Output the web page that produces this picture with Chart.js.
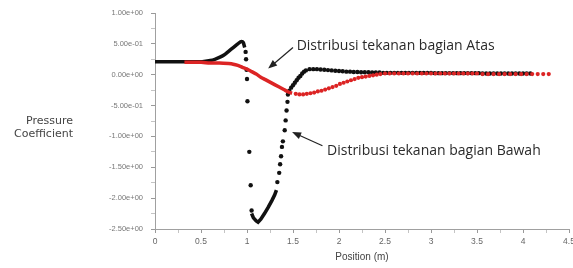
<!DOCTYPE html>
<html>
<head>
<meta charset="utf-8">
<script src="https://cdn.jsdelivr.net/npm/chart.js@4"></script>
<style>
    html, body { margin: 0; padding: 0; background: #fff; overflow: hidden; }
    #wrap { width: 573px; height: 268px; }
</style>
</head>
<body>
<div id="wrap"><canvas id="cpChart" width="573" height="268"></canvas></div>
<script>
// --- Data ---

// black series (bagian Bawah): solid stretch before the peak
const bawahLineX = [0, 0.3, 0.5, 0.55, 0.6, 0.65, 0.7, 0.75, 0.8, 0.85, 0.9, 0.94, 0.96, 0.975];
const bawahLineY = [0.21, 0.21, 0.21, 0.22, 0.23, 0.25, 0.28, 0.32, 0.38, 0.44, 0.50, 0.54, 0.52, 0.44];

// black series: the dense "V" at the suction minimum
const bawahVX = [1.05, 1.07, 1.1, 1.12, 1.15, 1.19, 1.23, 1.27, 1.3, 1.32];
const bawahVY = [-2.25, -2.32, -2.37, -2.39, -2.34, -2.25, -2.15, -2.04, -1.95, -1.87];

// black series: separate dots
const bawahDotX = [0.985, 0.99, 0.995, 1.0, 1.005, 1.025, 1.04, 1.05,
    1.33, 1.35, 1.36, 1.37, 1.38, 1.39, 1.41, 1.42, 1.43, 1.44, 1.445,
    1.46, 1.48, 1.5, 1.52, 1.54, 1.56, 1.58, 1.6, 1.62, 1.64,
    1.68, 1.72, 1.76, 1.80, 1.84, 1.88, 1.92, 1.96, 2.00, 2.04, 2.08, 2.12, 2.16, 2.20,
    2.24, 2.28, 2.32, 2.36, 2.40, 2.44, 2.48, 2.52, 2.56, 2.60, 2.64, 2.68, 2.72, 2.76,
    2.80, 2.84, 2.88, 2.92, 2.96, 3.00, 3.04, 3.08, 3.12, 3.16, 3.20, 3.24, 3.28, 3.32,
    3.36, 3.40, 3.44, 3.48, 3.52, 3.56, 3.60, 3.64, 3.68, 3.72, 3.76, 3.80, 3.84, 3.88,
    3.92, 3.96, 4.00, 4.04, 4.08];
const bawahDotY = [0.37, 0.25, 0.08, -0.07, -0.43, -1.25, -1.79, -2.2,
    -1.74, -1.59, -1.45, -1.32, -1.17, -1.08, -0.90, -0.74, -0.58, -0.44, -0.32,
    -0.26, -0.21, -0.17, -0.13, -0.09, -0.05, -0.02, 0.02, 0.05, 0.07,
    0.09, 0.09, 0.09, 0.085, 0.08, 0.075, 0.07, 0.065, 0.06, 0.055, 0.05, 0.05, 0.045, 0.045,
    0.04, 0.04, 0.04, 0.035, 0.035, 0.035, 0.03, 0.03, 0.03, 0.03, 0.03, 0.03, 0.03, 0.03,
    0.03, 0.03, 0.03, 0.03, 0.03, 0.03, 0.025, 0.025, 0.025, 0.025, 0.025, 0.025, 0.025, 0.025,
    0.025, 0.025, 0.025, 0.025, 0.025, 0.02, 0.02, 0.02, 0.02, 0.02, 0.02, 0.02, 0.02, 0.02,
    0.02, 0.02, 0.02, 0.02, 0.02];

// red series (bagian Atas): solid stretch down to the minimum
const atasLineX = [0.32, 0.4, 0.5, 0.6, 0.7, 0.8, 0.85, 0.9, 0.95, 1.0, 1.05, 1.1, 1.15, 1.2, 1.25, 1.3, 1.35, 1.4, 1.45, 1.49];
const atasLineY = [0.2, 0.2, 0.2, 0.19, 0.19, 0.18, 0.17, 0.15, 0.12, 0.09, 0.05, 0.01, -0.04, -0.08, -0.12, -0.16, -0.2, -0.24, -0.28, -0.3];

// red series: dotted recovery and tail
const atasDotX = [1.53, 1.57, 1.61, 1.65, 1.69, 1.73, 1.77, 1.81, 1.85, 1.89, 1.93, 1.97, 2.01, 2.05,
    2.09, 2.13, 2.17, 2.21, 2.25, 2.29, 2.33, 2.37, 2.41, 2.45,
    2.5, 2.55, 2.6, 2.65, 2.7, 2.75, 2.8, 2.85, 2.9, 2.95, 3.0, 3.05, 3.1, 3.15, 3.2, 3.25,
    3.3, 3.35, 3.4, 3.45, 3.5,
    3.56, 3.62, 3.68, 3.74, 3.8, 3.86, 3.92, 3.98, 4.04, 4.1, 4.16, 4.22, 4.28];
const atasDotY = [-0.31, -0.32, -0.32, -0.31, -0.30, -0.29, -0.27, -0.26, -0.24, -0.22, -0.20, -0.18, -0.15, -0.13,
    -0.11, -0.09, -0.07, -0.05, -0.04, -0.03, -0.02, -0.01, 0.0, 0.01,
    0.02, 0.02, 0.02, 0.02, 0.02, 0.02, 0.02, 0.02, 0.02, 0.02, 0.02, 0.02, 0.02, 0.02, 0.02, 0.02,
    0.02, 0.02, 0.02, 0.02, 0.02,
    0.01, 0.01, 0.01, 0.01, 0.01, 0.01, 0.01, 0.01, 0.01, 0.01, 0.01, 0.01, 0.01];

// tick labels
const xTickLabels = ["0", "0.5", "1", "1.5", "2", "2.5", "3", "3.5", "4", "4.5"];
const yTickLabels = ["1.00e+00", "5.00e-01", "0.00e+00", "-5.00e-01", "-1.00e+00", "-1.50e+00", "-2.00e+00", "-2.50e+00"];

// callouts (arrow head / tail / text anchor, in data units)
const noteText = ["Distribusi tekanan bagian Atas", "Distribusi tekanan bagian Bawah"];
const noteHead = [[1.23, 0.1], [1.49, -0.93]];
const noteTail = [[1.5, 0.44], [1.82, -1.15]];
const noteTextAt = [[1.54, 0.47], [1.87, -1.24]];

// --- Helpers ---

function toPoints(xs, ys) {
    return xs.map((x, i) => ({ x: x, y: ys[i] }));
}

function labelFor(list, start, step, value) {
    const k = (value - start) / step;
    if (Math.abs(k - Math.round(k)) > 1e-6) return "";
    return list[Math.round(k)] || "";
}

// y-axis title and the two arrows with their text
const notesPlugin = {
    id: "notes",
    afterDraw(chart) {
        const { ctx, chartArea } = chart;
        const xs = chart.scales.x;
        const ys = chart.scales.y;
        ctx.save();

        ctx.fillStyle = "#444";
        ctx.font = '11px "DejaVu Sans"';
        ctx.textAlign = "right";
        ctx.textBaseline = "middle";
        const midY = (chartArea.top + chartArea.bottom) / 2;
        ctx.fillText("Pressure", 73, midY + 0);
        ctx.fillText("Coefficient", 73, midY + 13);

        noteText.forEach((text, i) => {
            const hx = xs.getPixelForValue(noteHead[i][0]);
            const hy = ys.getPixelForValue(noteHead[i][1]);
            const tx = xs.getPixelForValue(noteTail[i][0]);
            const ty = ys.getPixelForValue(noteTail[i][1]);
            const ang = Math.atan2(hy - ty, hx - tx);

            ctx.strokeStyle = "#222";
            ctx.fillStyle = "#222";
            ctx.lineWidth = 1.2;
            ctx.beginPath();
            ctx.moveTo(tx, ty);
            ctx.lineTo(hx - 6 * Math.cos(ang), hy - 6 * Math.sin(ang));
            ctx.stroke();

            ctx.beginPath();
            ctx.moveTo(hx, hy);
            ctx.lineTo(hx - 9 * Math.cos(ang) + 3.5 * Math.sin(ang), hy - 9 * Math.sin(ang) - 3.5 * Math.cos(ang));
            ctx.lineTo(hx - 9 * Math.cos(ang) - 3.5 * Math.sin(ang), hy - 9 * Math.sin(ang) + 3.5 * Math.cos(ang));
            ctx.closePath();
            ctx.fill();

            ctx.fillStyle = "#2a2a2a";
            ctx.font = '14px "Open Sans"';
            ctx.textAlign = "left";
            ctx.textBaseline = "middle";
            ctx.fillText(text, xs.getPixelForValue(noteTextAt[i][0]), ys.getPixelForValue(noteTextAt[i][1]));
        });

        ctx.restore();
    }
};

// --- Chart ---

const BLACK = "#111111";
const RED = "#dc2424";

new Chart(document.getElementById("cpChart"), {
    type: "scatter",
    data: {
        datasets: [
            {
                data: toPoints(atasDotX, atasDotY),
                backgroundColor: RED, borderWidth: 0, pointRadius: 2.1, order: 1
            },
            {
                data: toPoints(atasLineX, atasLineY),
                showLine: true, borderColor: RED, borderWidth: 3.5, pointRadius: 0,
                cubicInterpolationMode: "monotone", order: 2
            },
            {
                data: toPoints(bawahDotX, bawahDotY),
                backgroundColor: BLACK, borderWidth: 0, pointRadius: 2.2, order: 3
            },
            {
                data: toPoints(bawahVX, bawahVY),
                showLine: true, borderColor: BLACK, borderWidth: 3.6, pointRadius: 0, order: 4
            },
            {
                data: toPoints(bawahLineX, bawahLineY),
                showLine: true, borderColor: BLACK, borderWidth: 3.5, pointRadius: 0,
                cubicInterpolationMode: "monotone", order: 5
            }
        ]
    },
    options: {
        responsive: false,
        animation: false,
        devicePixelRatio: 1,
        layout: { padding: { left: 0, right: 4, top: 13, bottom: 0 } },
        plugins: {
            legend: { display: false },
            tooltip: { enabled: false }
        },
        scales: {
            x: {
                type: "linear",
                min: 0,
                max: 4.5,
                afterFit(scale) {
                    scale.height = 39;
                    scale.paddingLeft = 0;
                    scale.paddingRight = 0;
                },
                border: { display: true, color: "#a0a0a0", width: 1 },
                grid: {
                    drawOnChartArea: false,
                    drawTicks: true,
                    tickLength: 4,
                    tickColor: (c) => (c.tick && c.tick.label ? "#999" : "#c4c4c4")
                },
                ticks: {
                    stepSize: 0.25,
                    autoSkip: false,
                    maxRotation: 0,
                    padding: 4,
                    color: "#666",
                    font: { family: "Liberation Sans", size: 8.5 },
                    callback: (v) => labelFor(xTickLabels, 0, 0.5, v)
                },
                title: {
                    display: true,
                    text: "Position (m)",
                    color: "#444",
                    font: { family: "Liberation Sans", size: 10 },
                    padding: { top: 0, bottom: 5 }
                }
            },
            y: {
                type: "linear",
                min: -2.5,
                max: 1,
                afterFit(scale) {
                    scale.width = 155;
                    scale.paddingTop = 0;
                    scale.paddingBottom = 0;
                },
                border: { display: true, color: "#a0a0a0", width: 1 },
                grid: {
                    drawOnChartArea: false,
                    drawTicks: true,
                    tickLength: 4,
                    tickColor: (c) => (c.tick && c.tick.label ? "#999" : "#c4c4c4")
                },
                ticks: {
                    stepSize: 0.25,
                    autoSkip: false,
                    padding: 8,
                    color: "#777",
                    font: { family: "Liberation Sans", size: 7.5 },
                    callback: (v) => labelFor(yTickLabels, 1, -0.5, v)
                }
            }
        }
    },
    plugins: [notesPlugin]
});
</script>
</body>
</html>
